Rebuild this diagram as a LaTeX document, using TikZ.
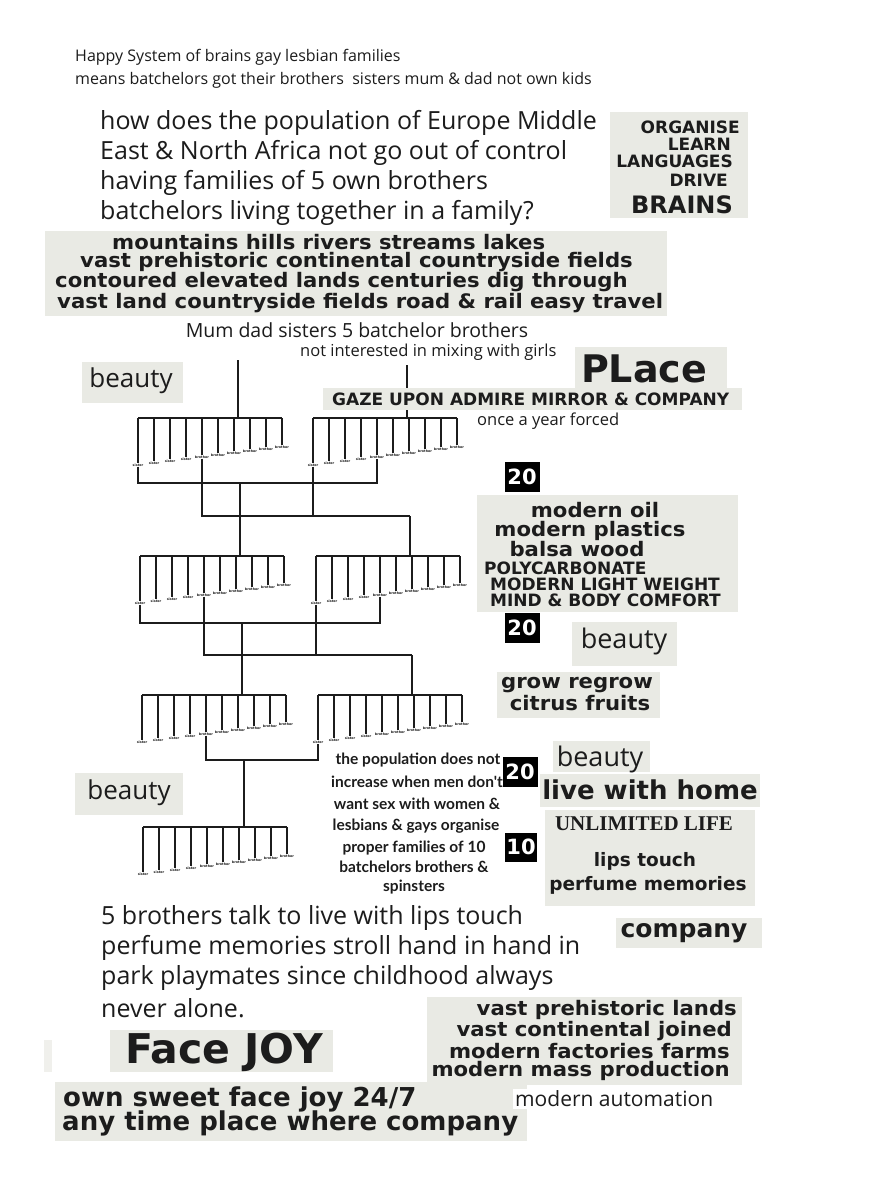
\documentclass[tikz,border=0pt]{standalone}
\usepackage{fontspec}
\setmainfont{Open Sans}
\newfontfamily\heavyfont{DejaVu Sans}
\newfontfamily\blockfont[FakeStretch=1.06]{DejaVu Sans}
\newfontfamily\roundfont{Lato}
\newfontfamily\seriffont{Liberation Serif}
\definecolor{boxgray}{RGB}{233,234,228}
\definecolor{ink}{RGB}{28,28,28}
\newcommand{\fsz}[1]{\fontsize{#1}{#1}\selectfont}

\tikzset{
  tree/.style={line width=1.3pt, draw=ink},
  gbox/.style={fill=boxgray, inner sep=0pt, anchor=north west},
  numbox/.style={fill=black, text=white, inner sep=0pt, minimum width=35, minimum height=30,
    font=\heavyfont\bfseries\fsz{21}},
  txt/.style={text=ink, inner sep=0pt, font=\fsz{16}},
  bigtxt/.style={text=ink, inner sep=0pt, font=\fsz{25}},
  blk/.style={text=ink, inner sep=0pt, font=\blockfont\bfseries\fsz{20}},
  caps/.style={text=ink, inner sep=0pt, font=\heavyfont\bfseries\fsz{17}},
  pop/.style={text=ink, inner sep=0pt, font=\roundfont\bfseries\fsz{15.5}},
  kin/.style={text=ink, inner sep=0.3pt, anchor=north, font=\heavyfont\bfseries\fsz{3.3}}
}

% one family: bus, ten drops, sister/brother labels
\newcommand{\famtree}[3]{%
  \coordinate (#1-bus) at (#2,#3);
  \draw[tree] (#2,#3) -- (#2+144,#3);
  \foreach \i in {0,...,9}{
    \pgfmathsetmacro{\dx}{#2+16*\i}
    \pgfmathsetmacro{\dy}{#3+45-2*\i}
    \ifnum\i<4 \def\who{sister}\else\def\who{brother}\fi
    \draw[tree] (\dx,#3) -- (\dx,\dy) coordinate (#1-\i);
    \node[kin] (#1-l\i) at (\dx,\dy) {\who};
  }
}

\begin{document}
\begin{tikzpicture}[x=1pt, y=-1pt]
  \useasboundingbox (0,0) rectangle (870,1200);
  \fill[white] (0,0) rectangle (870,1200);

  % Heading
  \node[txt, anchor=west] (hdr1) at (75,57) {Happy System of brains gay lesbian families};
  \node[txt, anchor=west] (hdr2) at (75,80) {means batchelors got their brothers\ \ sisters mum \& dad not own kids};

  % Question
  \node[bigtxt, anchor=west] (q1) at (100,123) {how does the population of Europe Middle};
  \node[bigtxt, anchor=west] (q2) at (100,153) {East \& North Africa not go out of control};
  \node[bigtxt, anchor=west] (q3) at (100,183) {having families of 5 own brothers};
  \node[bigtxt, anchor=west] (q4) at (100,213) {batchelors living together in a family?};

  % Organise
  \node[gbox, minimum width=138, minimum height=106] (orgbg) at (610,112) {};
  \node[caps, anchor=east] (org1) at (740,127) {ORGANISE};
  \node[caps, anchor=east] (org2) at (731,144) {LEARN};
  \node[caps, anchor=east] (org3) at (733,161) {LANGUAGES};
  \node[caps, anchor=east] (org4) at (728,180) {DRIVE};
  \node[caps, anchor=east, font=\heavyfont\bfseries\fsz{24}] (org5) at (733,205) {BRAINS};

  % Lands
  \node[gbox, minimum width=622, minimum height=85] (landbg) at (45,231) {};
  \node[blk, anchor=west] (land1) at (112,242) {mountains hills rivers streams lakes};
  \node[blk, anchor=west] (land2) at (80,262) {vast prehistoric continental countryside fields};
  \node[blk, anchor=west] (land3) at (55,282) {contoured elevated lands centuries dig through};
  \node[blk, anchor=west] (land4) at (57,303) {vast land countryside fields road \& rail easy travel};

  \node[txt, font=\fsz{19.5}] (mum) at (357,330) {Mum dad sisters 5 batchelor brothers};
  \node[txt, anchor=west, font=\fsz{16.5}] (girls) at (300,352) {not interested in mixing with girls};

  % Families
  \famtree{t1L}{138}{418}
  \famtree{t1R}{313}{418}
  \famtree{t2L}{140}{556}
  \famtree{t2R}{316}{556}
  \famtree{t3L}{142}{695}
  \famtree{t3R}{318}{695}
  \famtree{t4}{143}{827}

  \coordinate (r1L) at (238,360);
  \coordinate (r1R) at (407,365);
  \draw[tree] (r1L) -- (r1L |- t1L-bus);
  \draw[tree] (r1R) -- (r1R |- t1R-bus);

  \coordinate (jA1) at (240,483);
  \coordinate (jB1) at (410,516);
  \draw[tree] (t1L-l0.south) |- (jA1) -| (t1R-l4.south);
  \draw[tree] (t1L-l4.south) |- (jB1);
  \draw[tree] (t1R-l0.south) -- (t1R-l0.south |- jB1);
  \draw[tree] (jA1) -- (jA1 |- t2L-bus);
  \draw[tree] (jB1) -- (jB1 |- t2R-bus);

  \coordinate (jA2) at (242,623);
  \coordinate (jB2) at (412,655);
  \draw[tree] (t2L-l0.south) |- (jA2) -| (t2R-l4.south);
  \draw[tree] (t2L-l4.south) |- (jB2);
  \draw[tree] (t2R-l0.south) -- (t2R-l0.south |- jB2);
  \draw[tree] (jA2) -- (jA2 |- t3L-bus);
  \draw[tree] (jB2) -- (jB2 |- t3R-bus);

  \coordinate (j3) at (244,760);
  \draw[tree] (t3L-l4.south) |- (j3) -| (t3R-l0.south);
  \draw[tree] (j3) -- (j3 |- t4-bus);

  % Beauty and place
  \node[gbox, minimum width=101, minimum height=41] (beau1bg) at (82,362) {};
  \node[txt, font=\fsz{26}] (beau1) at (131,381) {beauty};
  \node[gbox, minimum width=152, minimum height=44] (placebg) at (575,347) {};
  \node[txt, font=\heavyfont\bfseries\fsz{38}] (place) at (644,369) {PLace};
  \node[gbox, minimum width=419, minimum height=22] (gazebg) at (323,388) {};
  \node[caps, anchor=west] (gaze) at (332,399) {GAZE UPON ADMIRE MIRROR \& COMPANY};
  \node[txt, anchor=west, font=\fsz{16.5}] (once) at (477,421) {once a year forced};

  % Materials
  \node[numbox] (n1) at (522,477) {20};
  \node[gbox, minimum width=261, minimum height=117] (modbg) at (477,495) {};
  \node[blk] (mod1) at (595,510) {modern oil};
  \node[blk] (mod2) at (590,531) {modern plastics};
  \node[blk] (mod3) at (577,549) {balsa wood};
  \node[caps, anchor=west] (mod4) at (484,568) {POLYCARBONATE};
  \node[caps, anchor=west] (mod5) at (490,584) {MODERN LIGHT WEIGHT};
  \node[caps, anchor=west] (mod6) at (490,600) {MIND \& BODY COMFORT};
  \node[numbox] (n2) at (522,628) {20};
  \node[gbox, minimum width=105, minimum height=44] (beau2bg) at (572,622) {};
  \node[txt, font=\fsz{27}] (beau2) at (624,641) {beauty};
  \node[gbox, minimum width=163, minimum height=46] (growbg) at (497,672) {};
  \node[blk] (grow1) at (577,685) {grow regrow};
  \node[blk] (grow2) at (580,703) {citrus fruits};

  % Population
  \node[pop] (pop1) at (418,760) {the population does not};
  \node[pop] (pop2) at (417,782) {increase when men don't};
  \node[pop] (pop3) at (417,804) {want sex with women \&};
  \node[pop] (pop4) at (416,826) {lesbians \& gays organise};
  \node[pop] (pop5) at (414,848) {proper families of 10};
  \node[pop] (pop6) at (414,867) {batchelors brothers \&};
  \node[pop] (pop7) at (414,887) {spinsters};
  \node[numbox] (n3) at (520,772) {20};
  \node[numbox, minimum width=32, minimum height=29] (n4) at (521,847) {10};

  \node[gbox, minimum width=108, minimum height=42] (beau3bg) at (75,773) {};
  \node[txt, font=\fsz{26}] (beau3) at (129,793) {beauty};
  \node[gbox, minimum width=97, minimum height=31] (beau4bg) at (553,741) {};
  \node[txt, font=\fsz{27}] (beau4) at (600,759) {beauty};
  \node[gbox, minimum width=220, minimum height=33] (livebg) at (540,774) {};
  \node[blk, font=\heavyfont\bfseries\fsz{26}] (live) at (650,790) {live with home};
  \node[gbox, minimum width=210, minimum height=96] (lifebg) at (545,810) {};
  \node[text=ink, inner sep=0pt, font=\seriffont\bfseries\fsz{21}] (life) at (644,824) {UNLIMITED LIFE};
  \node[blk, font=\heavyfont\bfseries\fsz{18.5}] (lips1) at (645,861) {lips touch};
  \node[blk, font=\heavyfont\bfseries\fsz{18.5}] (lips2) at (648,885) {perfume memories};
  \node[gbox, minimum width=146, minimum height=30] (compbg) at (616,918) {};
  \node[blk, font=\heavyfont\bfseries\fsz{25}] (comp) at (684,933) {company};

  % Brothers
  \node[bigtxt, anchor=west] (br1) at (101,918) {5 brothers talk to live with lips touch};
  \node[bigtxt, anchor=west] (br2) at (101,948) {perfume memories stroll hand in hand in};
  \node[bigtxt, anchor=west] (br3) at (101,978) {park playmates since childhood always};
  \node[bigtxt, anchor=west] (br4) at (101,1008) {never alone.};

  % Production
  \node[gbox, minimum width=315, minimum height=88] (vastbg) at (427,997) {};
  \node[blk, anchor=east] (vast1) at (737,1010) {vast prehistoric lands};
  \node[blk, anchor=east] (vast2) at (732,1031) {vast continental joined};
  \node[blk, anchor=east] (vast3) at (730,1051) {modern factories farms};
  \node[blk, anchor=east] (vast4) at (730,1071) {modern mass production};

  % Face joy
  \fill[boxgray!70] (44,1040) rectangle (52,1072);
  \node[gbox, minimum width=223, minimum height=42] (facebg) at (110,1030) {};
  \node[txt, font=\heavyfont\bfseries\fsz{41}] (face) at (224,1052) {Face JOY};
  \node[gbox, minimum width=472, minimum height=59] (ownbg) at (55,1082) {};
  \node[blk, anchor=west, font=\heavyfont\bfseries\fsz{26}] (own1) at (63,1099) {own sweet face joy 24/7};
  \node[blk, anchor=west, font=\heavyfont\bfseries\fsz{26}] (own2) at (62,1123) {any time place where company};
  \node[txt, anchor=west, fill=white, inner sep=2pt, font=\fsz{21}] (auto) at (513,1099) {modern automation};
\end{tikzpicture}
\end{document}
